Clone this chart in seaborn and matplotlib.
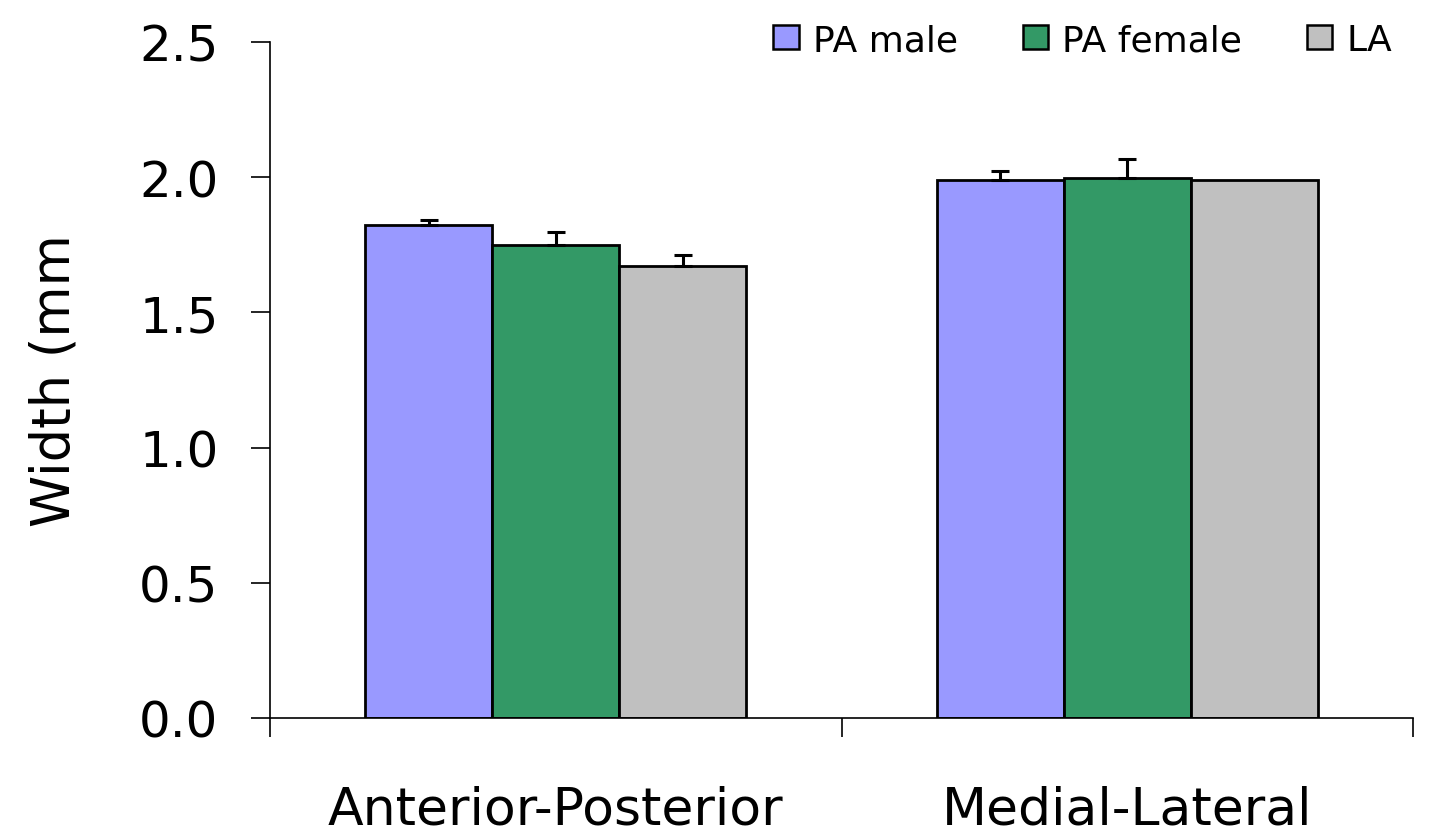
import matplotlib
matplotlib.use("Agg")
import matplotlib.pyplot as plt
import numpy as np
import pandas as pd
import seaborn as sns

# --------------------------------------------------------------------------- #
# Data
# --------------------------------------------------------------------------- #
categories = ["Anterior-Posterior", "Medial-Lateral"]
series = ["PA male", "PA female", "LA"]
pa_male = [1.823, 1.988]
pa_female = [1.748, 1.998]
la = [1.673, 1.988]
pa_male_err = [0.017, 0.036]
pa_female_err = [0.050, 0.068]
la_err = [0.040, 0.0]
yticks = [0.0, 0.5, 1.0, 1.5, 2.0, 2.5]

colors = {"PA male": "#9999FF", "PA female": "#339966", "LA": "#C0C0C0"}

values = {"PA male": pa_male, "PA female": pa_female, "LA": la}
errors = {"PA male": pa_male_err, "PA female": pa_female_err, "LA": la_err}

rows = []
for s in series:
    for c, v in zip(categories, values[s]):
        rows.append({"category": c, "series": s, "width": v})
df = pd.DataFrame(rows)

# --------------------------------------------------------------------------- #
# Plot
# --------------------------------------------------------------------------- #
sns.set_theme(style="white")
plt.rcParams["font.family"] = ["DejaVu Sans"]
plt.rcParams["text.color"] = "black"
plt.rcParams["axes.labelcolor"] = "black"
plt.rcParams["xtick.color"] = "black"
plt.rcParams["ytick.color"] = "black"

fig = plt.figure(figsize=(14.35, 8.37), dpi=100)
ax = fig.add_axes([270 / 1435, 1 - 719 / 837, (1413 - 270) / 1435, (719 - 43) / 837])

sns.barplot(data=df, x="category", y="width", hue="series", order=categories,
            hue_order=series, palette=colors, width=0.667, errorbar=None,
            edgecolor="black", linewidth=2.0, saturation=1, ax=ax)

# upward-only error bars on each bar
for s, cont in zip(series, ax.containers):
    for patch, err in zip(cont.patches, errors[s]):
        if err <= 0:
            continue
        xc = patch.get_x() + patch.get_width() / 2
        ax.errorbar(xc, patch.get_height(), yerr=[[0], [err]], fmt="none",
                    ecolor="black", elinewidth=2.2, capsize=6.5, capthick=2.2)

ax.set_ylim(0, 2.5)
ax.set_yticks(yticks)
ax.set_yticklabels([f"{t:.1f}" for t in yticks])
ax.set_xlim(-0.5, 1.5)

# category dividers as minor ticks, labels centred without tick marks
ax.set_xticks([-0.5, 0.5, 1.5], minor=True)
ax.tick_params(axis="x", which="minor", length=14, width=1.2, direction="out",
               bottom=True)
ax.tick_params(axis="x", which="major", length=0, labelsize=37.5, pad=48)
ax.tick_params(axis="y", which="major", length=14, width=1.2, direction="out",
               left=True, labelsize=36, pad=23)

ax.set_xlabel("")
ax.set_ylabel("Width (mm", fontsize=38, labelpad=42)

sns.despine(ax=ax)
for side in ("left", "bottom"):
    ax.spines[side].set_color("black")
    ax.spines[side].set_linewidth(1.2)

leg = ax.legend(title=None, ncol=3, frameon=False, fontsize=26,
                loc="center right", bbox_to_anchor=(1392 / 1435, 1 - 41 / 837),
                bbox_transform=fig.transFigure, borderaxespad=0, borderpad=0,
                handlelength=0.7, handleheight=0.64, handletextpad=0.39,
                columnspacing=1.8)
for h in leg.legend_handles:
    h.set_edgecolor("black")
    h.set_linewidth(1.8)

fig.savefig("out.png", dpi=100)
